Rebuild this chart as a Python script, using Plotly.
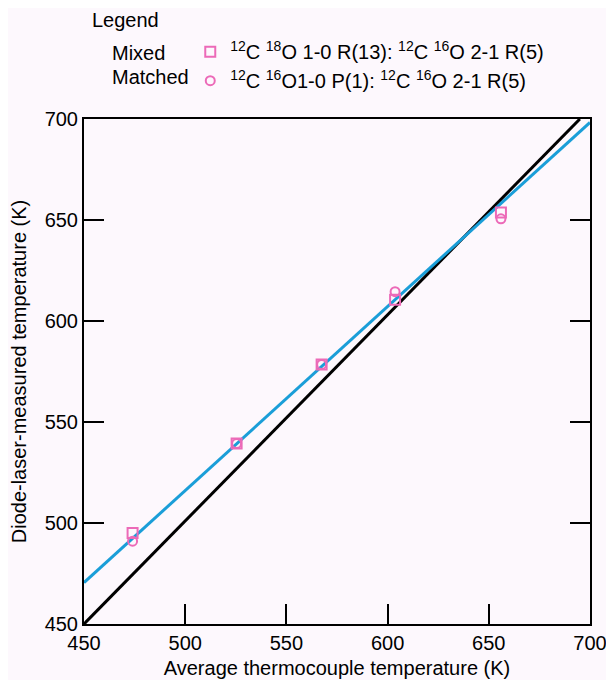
import plotly.graph_objects as go

# Data
mixed_x = [474, 525.4, 567.4, 603.7, 656]
mixed_y = [495, 539.3, 578.5, 610.5, 653.7]
matched_x = [474, 525.4, 567.4, 603.7, 656]
matched_y = [491, 539.3, 578.5, 614.5, 650.6]

fit_x = [450, 700]
fit_y = [470.5, 698.3]
ref_x = [450, 695]
ref_y = [450, 700]

tick_vals = [450, 500, 550, 600, 650, 700]
tick_text = ["450", "500", "550", "600", "650", "700"]

mixed_name = "<sup>12</sup>C <sup>18</sup>O 1-0 R(13): <sup>12</sup>C <sup>16</sup>O 2-1 R(5)"
matched_name = "<sup>12</sup>C <sup>16</sup>O1-0 P(1): <sup>12</sup>C <sup>16</sup>O 2-1 R(5)"

PINK = "#ec6ab8"
BLUE = "#1a9ed8"
FONT = "Liberation Sans, Arial, sans-serif"
BG = "#fdf8fd"

fig = go.Figure()
fig.add_trace(go.Scatter(x=ref_x, y=ref_y, mode="lines",
                         line=dict(color="black", width=3), showlegend=False))
fig.add_trace(go.Scatter(x=fit_x, y=fit_y, mode="lines",
                         line=dict(color=BLUE, width=3), showlegend=False))
fig.add_trace(go.Scatter(x=mixed_x, y=mixed_y, mode="markers", name=mixed_name,
                         marker=dict(symbol="square-open", size=10, color=PINK,
                                     line=dict(width=2, color=PINK))))
fig.add_trace(go.Scatter(x=matched_x, y=matched_y, mode="markers", name=matched_name,
                         marker=dict(symbol="circle-open", size=9, color=PINK,
                                     line=dict(width=2, color=PINK))))

axis_common = dict(
    range=[450, 700], tickvals=tick_vals, ticktext=tick_text,
    ticks="inside", ticklen=20, tickwidth=2, tickcolor="black",
    showline=True, linecolor="black", linewidth=2,
    showgrid=False, zeroline=False, automargin=False,
    tickfont=dict(size=20, color="black", family=FONT),
)

fig.update_xaxes(**axis_common, mirror=True,
                 title=dict(text="Average thermocouple temperature (K)",
                            font=dict(size=20, color="black", family=FONT), standoff=8))
fig.update_yaxes(**axis_common, mirror="ticks",
                 title=dict(text="Diode-laser-measured temperature (K)",
                            font=dict(size=20, color="black", family=FONT), standoff=14))

annots = [
    dict(text="Legend", x=0.012, y=1.196),
    dict(text="Mixed", x=0.051, y=1.131),
    dict(text="Matched", x=0.051, y=1.083),
]
fig.update_layout(
    width=606, height=672,
    margin=dict(l=76, r=24, t=111, b=56),
    paper_bgcolor=BG, plot_bgcolor=BG,
    font=dict(family=FONT, size=20, color="black"),
    showlegend=True,
    legend=dict(x=0.21, y=1.172, xanchor="left", yanchor="top",
                bgcolor="rgba(0,0,0,0)", font=dict(size=20, family=FONT),
                itemwidth=30, tracegroupgap=0),
    annotations=[dict(a, xref="paper", yref="paper", xanchor="left", yanchor="middle",
                      showarrow=False, font=dict(size=20, family=FONT, color="black"))
                 for a in annots],
)

fig.write_html("out.html")
